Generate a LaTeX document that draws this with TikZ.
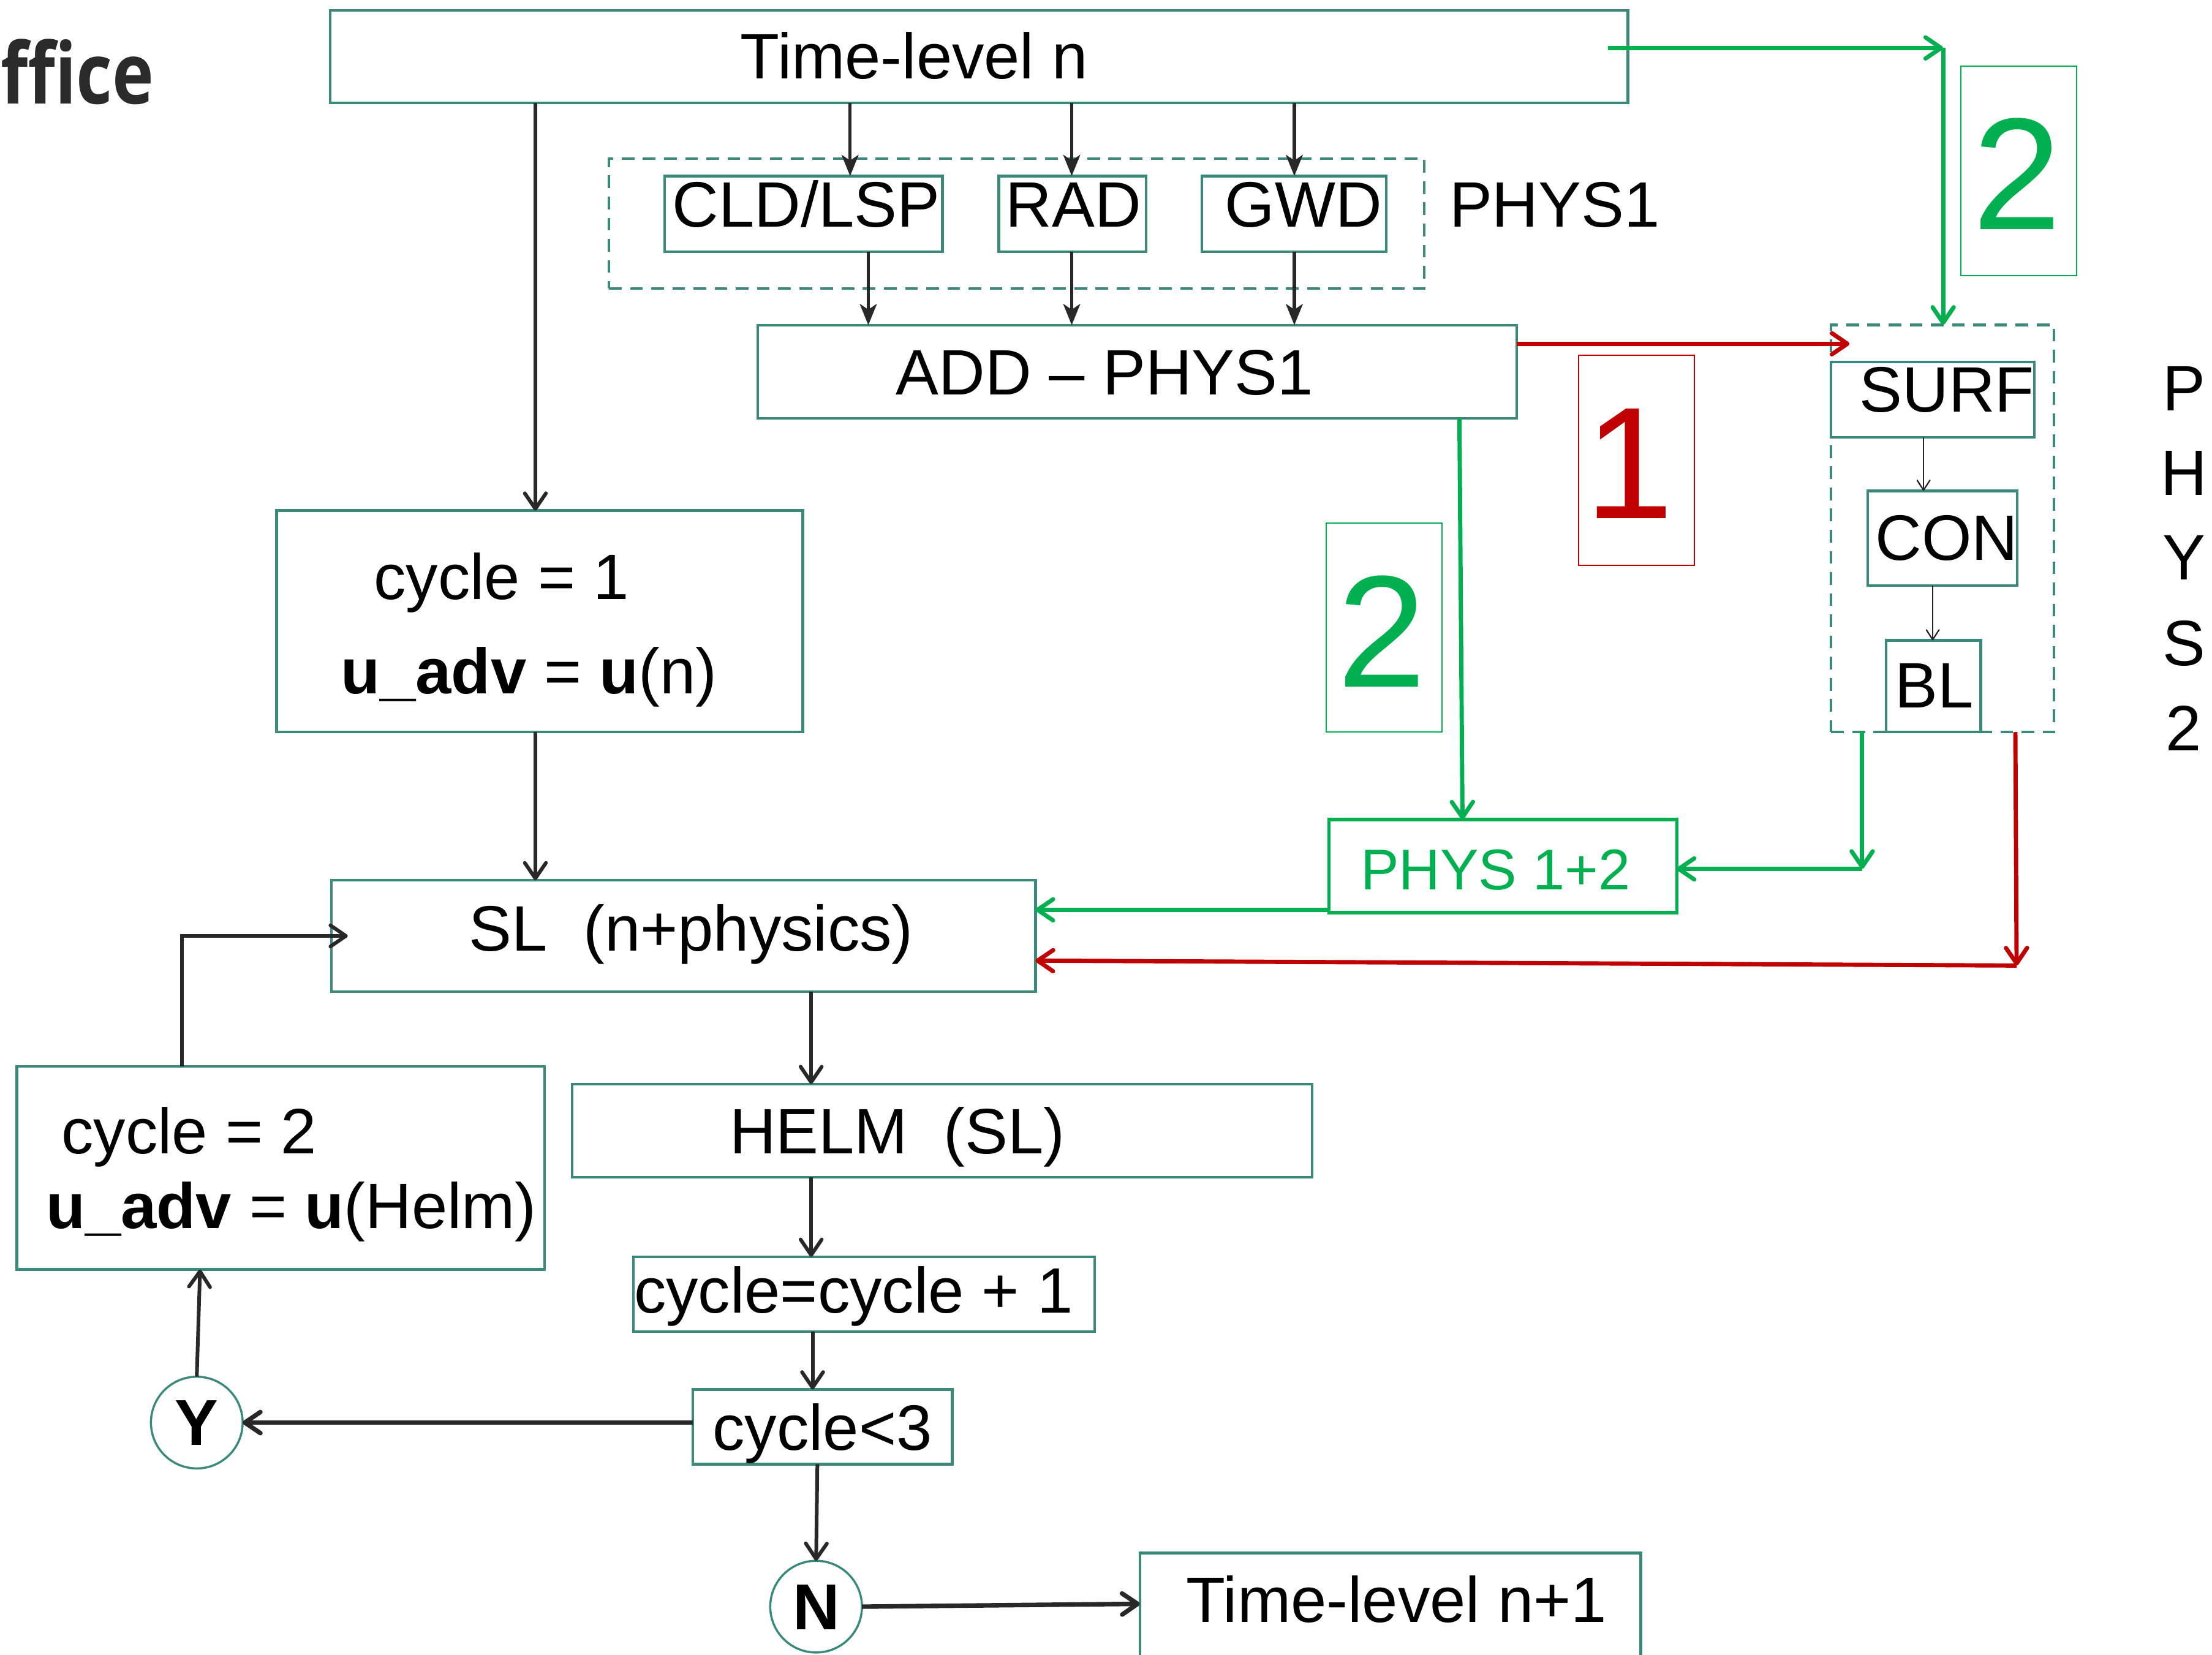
\documentclass[tikz,border=0pt]{standalone}
\usepackage{fontspec}
\setmainfont{Liberation Sans}
\newfontfamily\officefont{Open Sans}
\usetikzlibrary{arrows.meta}
\definecolor{boxc}{RGB}{59,138,121}
\definecolor{darkc}{RGB}{40,40,40}
\definecolor{redc}{RGB}{192,0,0}
\definecolor{greenc}{RGB}{0,176,80}
\definecolor{officec}{RGB}{43,43,43}
\newcommand\bx[6][]{\node[box,#1,minimum width={#5-#3},minimum height={#6-#4}] (#2) at ({(#3+#5)/2},{(#4+#6)/2}) {};}
\begin{document}
\begin{tikzpicture}[x=1pt,y=-1pt,
  box/.style={draw=boxc,line width=1.9pt,inner sep=0pt,outer sep=0pt},
  grp/.style={dash pattern=on 9pt off 6pt},
  numr/.style={draw=redc,line width=0.9pt},
  numg/.style={draw=greenc,line width=0.9pt},
  gbox/.style={draw=greenc,line width=2.2pt},
  txt/.style={inner sep=0pt,outer sep=0pt,text height=31.9pt,text depth=0pt,font=\fontsize{45.5}{50}\selectfont},
  bigdig/.style={inner sep=0pt,outer sep=0pt,text height=79pt,text depth=0pt,font=\fontsize{113}{120}\selectfont},
  circ/.style={circle,draw=boxc,line width=1.5pt,minimum size=65pt,inner sep=0pt,outer sep=0pt,text height=32.2pt,text depth=0pt,font=\fontsize{46}{50}\selectfont\bfseries},
  darr/.style={draw=darkc,line width=2.6pt,-{Straight Barb[round,length=11pt,width=15pt]}},
  sarr/.style={draw=darkc,line width=2.2pt,-{Stealth[length=15pt,width=12pt,inset=4pt]}},
  tarr/.style={draw=darkc,line width=1pt,-{Straight Barb[round,length=7pt,width=9pt]}},
  garr/.style={draw=greenc,line width=3pt,-{Straight Barb[round,length=11pt,width=15pt]}},
  rarr/.style={draw=redc,line width=3pt,-{Straight Barb[round,length=11pt,width=15pt]}}]
\useasboundingbox (0,0) rectangle (1568,1173);
% logo fragment
\node[anchor=base east,inner sep=0pt,text=officec,font=\officefont\bfseries\fontsize{60}{64}\selectfont] (office) at (109.5,73.8) {\scalebox{0.83}[1]{ffice}};
% top part
\bx{tl}{234}{7.5}{1154}{73}
\node[txt] (tlt) at (648,40) {Time-level n};
\bx[grp]{pgrp}{431.6}{112.5}{1009.7}{204.4}
\bx{cld}{471}{124.8}{668}{178.4}
\node[txt] (cldt) at (571.5,145) {CLD/LSP};
\bx{rad}{708}{124.8}{812.5}{178.4}
\node[txt] (radt) at (761,145) {RAD};
\bx{gwd}{852}{124.8}{982.6}{178.4}
\node[txt] (gwdt) at (924,145) {GWD};
\node[txt] (p1t) at (1102,145) {PHYS1};
\bx{add}{537}{230.5}{1075}{296.5}
\node[txt] (addt) at (783,264) {ADD -- PHYS1};
% left column
\bx{c1}{196}{362}{569}{519}
\node[txt] (c1a) at (355.5,409) {cycle = 1};
\node[txt] (c1b) at (375,476) {\textbf{u\_adv} = \textbf{u}(n)};
\bx{sl}{235}{624}{734}{703}
\node[txt] (slt) at (490,658) {SL\ \ (n+physics)};
\bx{helm}{405.5}{768.5}{930}{834.5}
\node[txt] (helmt) at (636,802) {HELM\ \ (SL)};
\bx{c2}{12}{756}{386}{900}
\node[txt] (c2a) at (134,802) {cycle = 2};
\node[txt] (c2b) at (206.5,855) {\textbf{u\_adv} = \textbf{u}(Helm)};
\bx{cc}{449}{891}{776}{944}
\node[txt] (cct) at (605,915) {cycle=cycle + 1};
\bx{c3}{491}{985}{675}{1038}
\node[txt] (c3t) at (583,1012) {cycle<3};
\node[circ] (yc) at (139.5,1008.5) {Y};
\node[circ] (nc) at (578.5,1139) {N};
\bx{tl1}{808}{1101}{1163}{1190}
\node[txt] (tl1t) at (990,1134) {Time-level n+1};
% right part
\bx[numr]{n1}{1119}{252}{1201}{400.7}
\node[bigdig,text=redc] (n1t) at (1155,328) {1};
\bx[numg]{n2a}{1390}{46.7}{1472}{195.4}
\node[bigdig,text=greenc] (n2at) at (1430,123) {2};
\bx[numg]{n2b}{940}{371}{1022}{519}
\node[bigdig,text=greenc] (n2bt) at (979.6,447.5) {2};
\bx[grp]{p2grp}{1298}{230.3}{1456}{519}
\bx{surf}{1298}{256.5}{1442}{310}
\node[txt] (surft) at (1380,276) {SURF};
\bx{con}{1324}{348}{1430}{415}
\node[txt] (cont) at (1380,381) {CON};
\bx{bl}{1337}{454}{1404}{519}
\node[txt] (blt) at (1371,486) {BL};
\node[txt] (v1) at (1548,275) {P};
\node[txt] (v2) at (1548,335) {H};
\node[txt] (v3) at (1548,395) {Y};
\node[txt] (v4) at (1548,456) {S};
\node[txt] (v5) at (1548,516) {2};
\bx[gbox]{p12}{942}{581}{1188.5}{647}
\node[inner sep=0pt,outer sep=0pt,text height=28.5pt,text depth=0pt,text=greenc,font=\fontsize{40.7}{45}\selectfont] (p12t) at (1060,616.5) {PHYS 1+2};
% dark connectors
\draw[sarr] (602.6,0 |- tl.south) -- (602.6,0 |- cld.north);
\draw[sarr] (759.7,0 |- tl.south) -- (759.7,0 |- rad.north);
\draw[sarr] (917.5,0 |- tl.south) -- (917.5,0 |- gwd.north);
\draw[sarr] (615.5,0 |- cld.south) -- (615.5,0 |- add.north);
\draw[sarr] (759.7,0 |- rad.south) -- (759.7,0 |- add.north);
\draw[sarr] (917.5,0 |- gwd.south) -- (917.5,0 |- add.north);
\draw[darr] (379.5,0 |- tl.south) -- (379.5,0 |- c1.north);
\draw[darr] (379.5,0 |- c1.south) -- (379.5,0 |- sl.north);
\draw[darr] (575,0 |- sl.south) -- (575,0 |- helm.north);
\draw[darr] (575,0 |- helm.south) -- (575,0 |- cc.north);
\draw[darr] (576,0 |- cc.south) -- (576,0 |- c3.north);
\draw[darr,line width=3.2pt] (c3.west |- yc.east) -- (yc.east);
\draw[darr] (yc.north) -- (141.8,0 |- c2.south);
\draw[darr] (129,0 |- c2.north) |- ([xshift=11.5pt]sl.west);
\draw[darr] (579.4,0 |- c3.south) -- (nc.north);
\draw[darr,line width=3.2pt] (nc.east) -- (tl1.west |- 0,1137);
\draw[tarr] (1363.5,0 |- surf.south) -- (1363.5,0 |- con.north);
\draw[tarr] (1370,0 |- con.south) -- (1370,0 |- bl.north);
% coloured connectors
\coordinate (g0) at (1140,34);
\coordinate (g1) at (1377.4,34);
\draw[garr] (g0) -- (g1);
\draw[garr] (g1) -- (g1 |- p2grp.north);
\coordinate (rtip) at (1311,243.7);
\draw[rarr] (add.east |- rtip) -- (rtip);
\draw[garr] (1034.5,0 |- add.south) -- (1036.7,0 |- p12.north);
\coordinate (gc) at (1320,616);
\draw[garr] (1320,0 |- p2grp.south) -- (gc);
\draw[garr] (gc) -- (p12.east |- gc);
\draw[garr] (p12.west |- 0,645) -- (sl.east |- 0,645);
\coordinate (rc) at (1429.5,684.5);
\draw[rarr] (1428.6,0 |- p2grp.south) -- (rc);
\draw[rarr] (rc) -- (sl.east |- 0,681);
\end{tikzpicture}
\end{document}
